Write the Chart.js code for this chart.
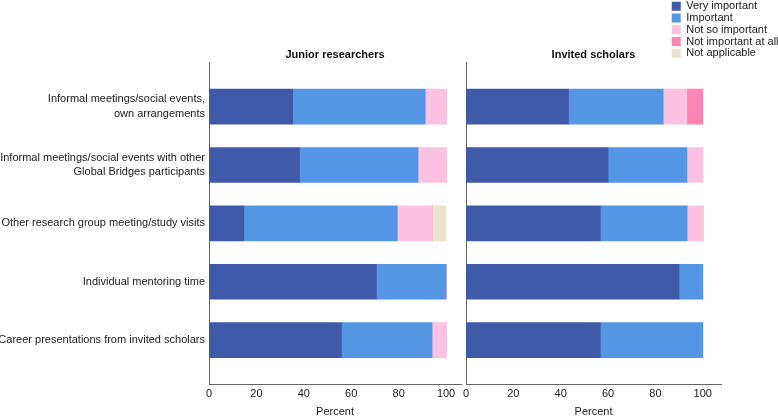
<!DOCTYPE html>
<html>
<head>
<meta charset="utf-8">
<script src="https://cdn.jsdelivr.net/npm/chart.js@4"></script>
<style>
  body { margin: 0; background: #fff; }
  #wrap { position: relative; width: 778px; height: 417px; }
  canvas { position: absolute; top: 0; }
</style>
</head>
<body>
<div id="wrap">
  <canvas id="junior" width="462" height="417" style="left:0"></canvas>
  <canvas id="invited" width="316" height="417" style="left:462px"></canvas>
  <canvas id="legend" width="107" height="150" style="left:671px"></canvas>
</div>
<script>
const categories = [
    ['Informal meetings/social events,', 'own arrangements'],
    ['Informal meetings/social events with other', 'Global Bridges participants'],
    'Other research group meeting/study visits',
    'Individual mentoring time',
    'Career presentations from invited scholars'
];
const seriesNames = ['Very important', 'Important', 'Not so important', 'Not important at all', 'Not applicable'];
const seriesColors = ['#3e5aa9', '#5596e4', '#fdc1e1', '#fd85b4', '#ebe4cf'];

// Junior researchers (percent)
const juniorVeryImportant = [35.3, 38.2, 14.7, 70.6, 55.9];
const juniorImportant = [55.9, 50.0, 64.7, 29.4, 38.2];
const juniorNotSoImportant = [8.8, 11.8, 14.7, 0, 5.9];
const juniorNotAtAll = [0, 0, 0, 0, 0];
const juniorNotApplicable = [0, 0, 5.9, 0, 0];

// Invited scholars (percent)
const invitedVeryImportant = [43.3, 60.0, 56.7, 90.0, 56.7];
const invitedImportant = [40.0, 33.3, 36.7, 10.0, 43.3];
const invitedNotSoImportant = [10.0, 6.7, 6.7, 0, 0];
const invitedNotAtAll = [6.7, 0, 0, 0, 0];
const invitedNotApplicable = [0, 0, 0, 0, 0];

const xTickStep = 20;
const fontFamily = '"Liberation Sans", Arial, sans-serif';

Chart.defaults.font.family = fontFamily;
Chart.defaults.font.size = 11;
Chart.defaults.color = '#222';

function makeDatasets(lists) {
    return lists.map((values, s) => ({
        label: seriesNames[s],
        data: values.map((v, i) => ({ x: v, y: i })),
        backgroundColor: seriesColors[s],
        borderWidth: 0,
        barThickness: 35
    }));
}

function makePanel(canvas, title, lists, opts) {
    return new Chart(canvas, {
        type: 'bar',
        data: { datasets: makeDatasets(lists) },
        options: {
            indexAxis: 'y',
            responsive: false,
            animation: false,
            devicePixelRatio: 1,
            events: [],
            layout: { padding: { top: 48.8, right: opts.padRight, bottom: 0, left: 0 } },
            plugins: {
                legend: { display: false },
                tooltip: { enabled: false },
                title: {
                    display: true,
                    text: title,
                    fullSize: false,
                    color: '#111',
                    font: { size: 11, weight: 'bold' },
                    padding: { top: 0, bottom: 0 }
                }
            },
            scales: {
                x: {
                    type: 'linear',
                    stacked: true,
                    min: 0,
                    max: opts.xMax,
                    grid: { display: false, drawTicks: false },
                    border: { display: true, color: '#666', width: 1 },
                    ticks: { stepSize: xTickStep, includeBounds: false, padding: 3, maxRotation: 0 },
                    title: { display: true, text: 'Percent', font: { lineHeight: 1 }, padding: { top: 0, bottom: 0 } },
                    afterFit: scale => {
                        scale.height = 32.3;
                        scale.paddingLeft = 0;
                        scale.paddingRight = 0;
                    }
                },
                y: {
                    type: 'linear',
                    stacked: true,
                    reverse: true,
                    offset: false,
                    min: -0.764,
                    max: categories.length - 1 + 0.764,
                    grid: { display: false, drawTicks: false, offset: false },
                    border: { display: true, color: '#666', width: 1 },
                    ticks: {
                        display: opts.showLabels,
                        stepSize: 1,
                        includeBounds: false,
                        autoSkip: false,
                        padding: 4,
                        font: { lineHeight: 1.3 },
                        callback: v => categories[v]
                    },
                    afterFit: scale => { scale.width = opts.axisWidth; }
                }
            }
        }
    });
}

makePanel(document.getElementById('junior'), 'Junior researchers',
    [juniorVeryImportant, juniorImportant, juniorNotSoImportant, juniorNotAtAll, juniorNotApplicable],
    { xMax: 106.3, padRight: 1, axisWidth: 209, showLabels: true });

makePanel(document.getElementById('invited'), 'Invited scholars',
    [invitedVeryImportant, invitedImportant, invitedNotSoImportant, invitedNotAtAll, invitedNotApplicable],
    { xMax: 107.7, padRight: 57, axisWidth: 4, showLabels: false });

// legend only
new Chart(document.getElementById('legend'), {
    type: 'bar',
    data: {
        datasets: seriesNames.map((name, s) => ({ label: name, data: [], backgroundColor: seriesColors[s] }))
    },
    options: {
        responsive: false,
        animation: false,
        devicePixelRatio: 1,
        events: [],
        layout: { padding: 0 },
        plugins: {
            tooltip: { enabled: false },
            legend: {
                position: 'top',
                align: 'start',
                labels: { boxWidth: 9, boxHeight: 9, padding: 0.75, font: { size: 11 }, color: '#222' }
            }
        },
        scales: { x: { display: false }, y: { display: false } }
    }
});
</script>
</body>
</html>
